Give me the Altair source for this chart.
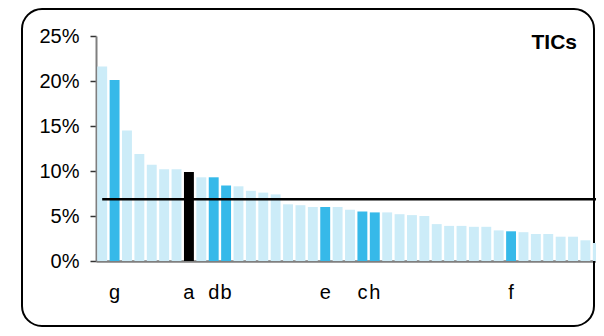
import altair as alt
import pandas as pd

values = [21.6, 20.1, 14.5, 11.9, 10.7, 10.2, 10.2, 9.9, 9.3, 9.3,
          8.4, 8.3, 7.8, 7.6, 7.4, 6.3, 6.2, 6.0, 6.0, 6.0,
          5.7, 5.5, 5.4, 5.4, 5.2, 5.1, 5.0, 4.1, 3.9, 3.9,
          3.8, 3.8, 3.4, 3.3, 3.2, 3.0, 3.0, 2.7, 2.7, 2.3, 2.0]
labels = ["", "g", "", "", "", "", "", "a", "", "d",
          "b", "", "", "", "", "", "", "", "e", "",
          "", "c", "h", "", "", "", "", "", "", "",
          "", "", "", "f", "", "", "", "", "", "", ""]
groups = ["other", "highlight", "other", "other", "other", "other", "other", "focus", "other", "highlight",
          "highlight", "other", "other", "other", "other", "other", "other", "other", "highlight", "other",
          "other", "highlight", "highlight", "other", "other", "other", "other", "other", "other", "other",
          "other", "other", "other", "highlight", "other", "other", "other", "other", "other", "other", "other"]
threshold = 6.86
y_ticks = [0, 5, 10, 15, 20, 25]
title_text = "TICs"

ids = [lab if lab else f"_{i}" for i, lab in enumerate(labels)]
df = pd.DataFrame({"id": ids, "value": values, "group": groups})
rule_df = pd.DataFrame({"start": [ids[0]], "end": [ids[-1]], "t": [threshold]})

FONT = "Liberation Sans"
# the band range runs a little past the visible right edge, as in the cropped original
xscale = alt.Scale(domain=ids, paddingInner=0.2, paddingOuter=0.1, range=[0, 508])

frame = alt.Chart(pd.DataFrame({"k": [0]})).mark_rect(
    fill="transparent", stroke="black", strokeWidth=2, cornerRadius=20
).encode(
    x=alt.value(-74), x2=alt.value(498), y=alt.value(-27), y2=alt.value(290)
)

title = alt.Chart(pd.DataFrame({"t": [title_text]})).mark_text(
    align="right", baseline="alphabetic", fontSize=21, fontWeight="bold",
    font=FONT, color="black"
).encode(x=alt.value(481), y=alt.value(13), text="t:N")

bars = alt.Chart(df).mark_bar().encode(
    x=alt.X("id:N", sort=None, scale=xscale,
            axis=alt.Axis(title=None, labelExpr="indexof(datum.value, '_') == 0 ? '' : datum.value",
                          ticks=False, tickSize=0, labelAngle=0, labelPadding=37,
                          labelBaseline="alphabetic", labelFontSize=20, labelFont=FONT,
                          labelColor="black", labelOverlap=False,
                          domainColor="#7f7f7f", domainWidth=2.5)),
    y=alt.Y("value:Q", scale=alt.Scale(domain=[0, 25], nice=False),
            axis=alt.Axis(title=None, values=y_ticks, labelExpr="datum.value + '%'",
                          grid=False, domainColor="#7f7f7f", domainWidth=2,
                          tickColor="#333333", tickSize=6, tickWidth=1.5,
                          labelFontSize=20, labelFont=FONT, labelColor="black",
                          labelPadding=11)),
    color=alt.Color("group:N", legend=None,
                    scale=alt.Scale(domain=["other", "highlight", "focus"],
                                    range=["#CCECF8", "#36B9E9", "#000000"])),
)

rule = alt.Chart(rule_df).mark_rule(color="black", strokeWidth=2.5).encode(
    x=alt.X("start:N", sort=None, scale=xscale),
    x2="end:N",
    y=alt.Y("t:Q"),
)

chart = alt.layer(frame, bars, rule, title).properties(
    width=500, height=225,
    autosize=alt.AutoSizeParams(type="none"),
    padding={"left": 88, "top": 28, "right": 0, "bottom": 67},
).configure_view(stroke=None)

chart.save("out.html", embed_options={"renderer": "svg", "actions": False})
